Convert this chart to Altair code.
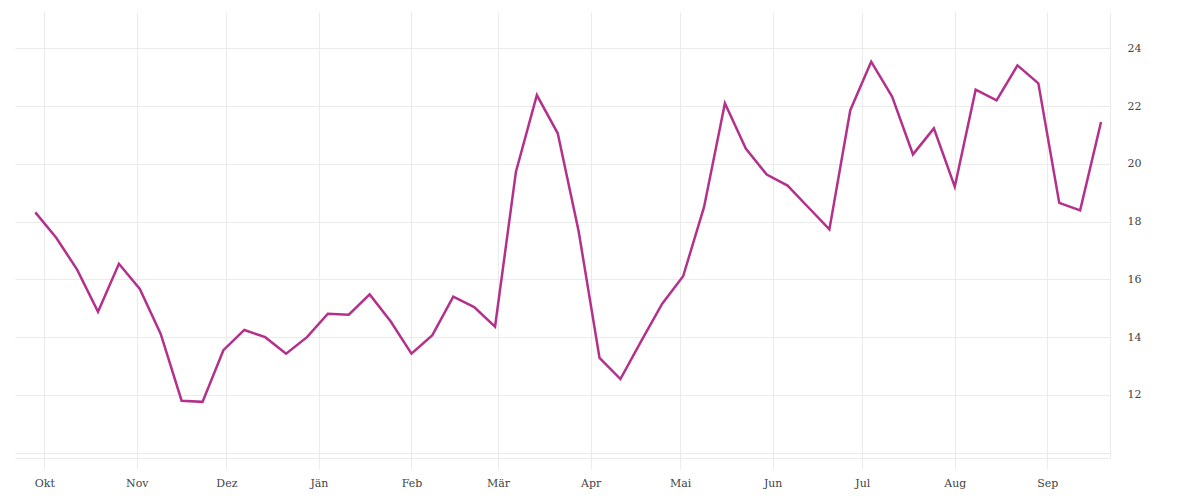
import altair as alt
import pandas as pd
from datetime import datetime, timezone

dates = [
    "2023-09-28", "2023-10-05", "2023-10-12", "2023-10-19", "2023-10-26",
    "2023-11-02", "2023-11-09", "2023-11-16", "2023-11-23", "2023-11-30",
    "2023-12-07", "2023-12-14", "2023-12-21", "2023-12-28", "2024-01-04",
    "2024-01-11", "2024-01-18", "2024-01-25", "2024-02-01", "2024-02-08",
    "2024-02-15", "2024-02-22", "2024-02-29", "2024-03-07", "2024-03-14",
    "2024-03-21", "2024-03-28", "2024-04-04", "2024-04-11", "2024-04-18",
    "2024-04-25", "2024-05-02", "2024-05-09", "2024-05-16", "2024-05-23",
    "2024-05-30", "2024-06-06", "2024-06-13", "2024-06-20", "2024-06-27",
    "2024-07-04", "2024-07-11", "2024-07-18", "2024-07-25", "2024-08-01",
    "2024-08-08", "2024-08-15", "2024-08-22", "2024-08-29", "2024-09-05",
    "2024-09-12", "2024-09-19",
]

values = [
    18.32, 17.44, 16.34, 14.88, 16.54, 15.67, 14.11, 11.80, 11.76, 13.55,
    14.25, 14.00, 13.43, 14.00, 14.81, 14.78, 15.48, 14.55, 13.43, 14.07,
    15.40, 15.04, 14.36, 19.73, 22.38, 21.06, 17.67, 13.28, 12.55, 13.87,
    15.16, 16.11, 18.50, 22.10, 20.53, 19.63, 19.25, 18.49, 17.73, 21.86,
    23.54, 22.33, 20.33, 21.23, 19.21, 22.57, 22.20, 23.41, 22.79, 18.65,
    18.39, 21.45,
]

month_ticks = [
    "2023-10-01", "2023-11-01", "2023-12-01", "2024-01-01", "2024-02-01",
    "2024-03-01", "2024-04-01", "2024-05-01", "2024-06-01", "2024-07-01",
    "2024-08-01", "2024-09-01",
]
month_names = ["Jän", "Feb", "Mär", "Apr", "Mai", "Jun",
               "Jul", "Aug", "Sep", "Okt", "Nov", "Dez"]
y_ticks = [10, 12, 14, 16, 18, 20, 22, 24]


def ms(s):
    d = datetime.fromisoformat(s).replace(tzinfo=timezone.utc)
    return int(d.timestamp() * 1000)


df = pd.DataFrame({"date": dates, "value": values})

names_js = "[" + ",".join("'" + m + "'" for m in month_names) + "]"

FONT = "DejaVu Serif"
GRID = "#ebebeb"

chart = alt.Chart(df).mark_line(
    color="#b3318a", strokeWidth=2.5, strokeJoin="miter"
).encode(
    x=alt.X(
        "date:T",
        scale=alt.Scale(
            type="utc",
            domain=[ms("2023-09-21T04:30:00"), ms("2024-09-22T00:00:00")],
        ),
        axis=alt.Axis(
            title=None,
            values=[ms(m) for m in month_ticks],
            labelExpr=names_js + "[utcmonth(datum.value)]",
            grid=True,
            gridColor=GRID,
            gridWidth=1,
            domainColor=GRID,
            tickColor=GRID,
            tickSize=11,
            labelPadding=8,
            labelFont=FONT,
            labelFontSize=11,
            labelColor="#444444",
        ),
    ),
    y=alt.Y(
        "value:Q",
        scale=alt.Scale(domain=[9.816, 25.26], nice=False, zero=False),
        axis=alt.Axis(
            title=None,
            orient="right",
            values=y_ticks,
            labelExpr="datum.value == 10 ? '' : datum.label",
            grid=True,
            gridColor=GRID,
            gridWidth=1,
            domainColor=GRID,
            ticks=False,
            labelPadding=17,
            labelFont=FONT,
            labelFontSize=11,
            labelColor="#444444",
        ),
    ),
).properties(
    width=1095,
    height=446,
    padding={"left": 7, "top": 4, "right": 10, "bottom": 12},
).configure_view(stroke=None)

chart.save("out.html", embed_options={"renderer": "svg", "actions": False})
